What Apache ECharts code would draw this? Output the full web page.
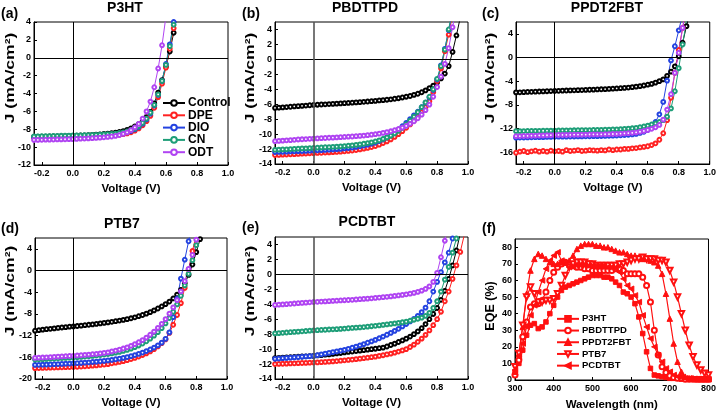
<!DOCTYPE html>
<html><head><meta charset="utf-8">
<script src="https://cdn.jsdelivr.net/npm/echarts@6/dist/echarts.min.js"></script>
<style>html,body{margin:0;padding:0;background:#fff}#c{width:719px;height:412px}</style>
</head><body><div id="c"></div>
<script>
// ---------- data ----------
const V = [-0.25,-0.225,-0.2,-0.175,-0.15,-0.125,-0.1,-0.075,-0.05,-0.025,
  0,0.025,0.05,0.075,0.1,0.125,0.15,0.175,0.2,0.225,
  0.25,0.275,0.3,0.325,0.35,0.375,0.4,0.425,0.45,0.475,
  0.5,0.525,0.55,0.575,0.6,0.625,0.65,0.675,0.7,0.725,
  0.75,0.775,0.8,0.825,0.85,0.875,0.9,0.925,0.95,0.975,1.0];
const xTicks = [-0.2,0,0.2,0.4,0.6,0.8,1.0];
const seriesNames = ['Control','DPE','DIO','CN','ODT'];

// (a) P3HT
const a_control = [-8.85,-8.84,-8.83,-8.82,-8.81,-8.8,-8.79,-8.78,-8.77,-8.75,
  -8.74,-8.72,-8.7,-8.68,-8.66,-8.63,-8.6,-8.57,-8.53,-8.49,
  -8.44,-8.38,-8.3,-8.2,-8.07,-7.9,-7.68,-7.42,-7.1,-6.65,
  -6.05,-5.1,-3.9,-2.5,-1.0,0.7,2.8,5.0];
const a_dpe = [-8.95,-8.94,-8.93,-8.92,-8.91,-8.9,-8.89,-8.88,-8.87,-8.86,
  -8.85,-8.84,-8.83,-8.82,-8.8,-8.79,-8.77,-8.75,-8.73,-8.71,
  -8.68,-8.65,-8.6,-8.54,-8.46,-8.34,-8.15,-7.9,-7.55,-7.1,
  -6.5,-5.6,-4.4,-2.9,-1.1,1.0,3.3,5.8];
const a_dio = [-8.9,-8.89,-8.88,-8.87,-8.86,-8.85,-8.84,-8.83,-8.82,-8.81,
  -8.8,-8.79,-8.78,-8.76,-8.75,-8.73,-8.71,-8.69,-8.67,-8.64,
  -8.61,-8.57,-8.51,-8.44,-8.34,-8.2,-8.0,-7.74,-7.38,-6.9,
  -6.25,-5.35,-4.15,-2.6,-0.7,1.5,4.0,6.5];
const a_cn = [-8.8,-8.79,-8.78,-8.77,-8.76,-8.75,-8.74,-8.73,-8.72,-8.71,
  -8.7,-8.69,-8.68,-8.67,-8.65,-8.64,-8.62,-8.6,-8.58,-8.55,
  -8.52,-8.48,-8.42,-8.35,-8.25,-8.1,-7.9,-7.64,-7.28,-6.8,
  -6.15,-5.28,-4.1,-2.6,-0.8,1.3,3.7,6.2];
const a_odt = [-9.2,-9.19,-9.18,-9.17,-9.16,-9.15,-9.14,-9.13,-9.12,-9.11,
  -9.1,-9.08,-9.06,-9.04,-9.02,-9.0,-8.97,-8.94,-8.9,-8.86,
  -8.81,-8.74,-8.65,-8.52,-8.35,-8.1,-7.8,-7.4,-6.8,-6.0,
  -4.9,-3.3,-1.2,1.4,4.6];
const a_yTicks = [-12,-10,-8,-6,-4,-2,0,2,4];

// (b) PBDTTPD
const b_control = [-6.5,-6.46,-6.42,-6.38,-6.34,-6.3,-6.26,-6.22,-6.18,-6.14,
  -6.1,-6.07,-6.04,-6.01,-5.98,-5.95,-5.92,-5.89,-5.86,-5.83,
  -5.8,-5.76,-5.72,-5.68,-5.64,-5.6,-5.55,-5.5,-5.45,-5.4,
  -5.34,-5.27,-5.2,-5.1,-5.0,-4.9,-4.75,-4.6,-4.4,-4.15,
  -3.85,-3.5,-3.1,-2.55,-1.9,-0.9,1.0,3.2,5.6];
const b_dpe = [-12.8,-12.78,-12.75,-12.73,-12.7,-12.68,-12.65,-12.62,-12.6,-12.57,
  -12.55,-12.52,-12.5,-12.47,-12.44,-12.41,-12.38,-12.35,-12.3,-12.25,
  -12.2,-12.13,-12.05,-11.95,-11.85,-11.73,-11.6,-11.42,-11.2,-10.97,
  -10.7,-10.37,-10.0,-9.6,-9.15,-8.7,-8.2,-7.65,-7.05,-6.4,
  -5.6,-4.4,-2.9,-1.2,1.1,3.3,6.0];
const b_dio = [-12.4,-12.38,-12.36,-12.34,-12.32,-12.3,-12.28,-12.26,-12.24,-12.22,
  -12.2,-12.17,-12.14,-12.11,-12.08,-12.05,-12.01,-11.97,-11.92,-11.86,
  -11.8,-11.72,-11.63,-11.53,-11.42,-11.28,-11.12,-10.93,-10.7,-10.45,
  -10.15,-9.8,-9.4,-8.95,-8.5,-8.0,-7.5,-7.0,-6.4,-5.8,
  -5.1,-4.1,-2.7,-0.8,1.4,3.9,6.5];
const b_cn = [-12.1,-12.08,-12.05,-12.03,-12.0,-11.98,-11.95,-11.92,-11.9,-11.87,
  -11.85,-11.82,-11.79,-11.76,-11.73,-11.7,-11.67,-11.64,-11.6,-11.55,
  -11.5,-11.44,-11.37,-11.29,-11.2,-11.1,-10.98,-10.83,-10.65,-10.44,
  -10.2,-9.9,-9.55,-9.15,-8.7,-8.2,-7.65,-7.05,-6.4,-5.75,
  -5.0,-4.0,-2.6,-0.9,1.3,4.0,6.8];
const b_odt = [-10.95,-10.91,-10.87,-10.83,-10.8,-10.76,-10.72,-10.69,-10.66,-10.63,
  -10.6,-10.57,-10.54,-10.52,-10.49,-10.47,-10.44,-10.41,-10.38,-10.35,
  -10.32,-10.28,-10.24,-10.19,-10.14,-10.08,-10.01,-9.93,-9.84,-9.74,
  -9.62,-9.48,-9.32,-9.13,-8.9,-8.62,-8.28,-7.88,-7.4,-6.8,
  -6.05,-5.0,-3.7,-2.3,-0.6,1.5,4.3,7.0];
const b_yTicks = [-14,-12,-10,-8,-6,-4,-2,0,2,4];

// (c) PPDT2FBT
const c_control = [-5.9,-5.88,-5.85,-5.82,-5.8,-5.78,-5.75,-5.72,-5.7,-5.67,
  -5.65,-5.63,-5.6,-5.58,-5.56,-5.54,-5.52,-5.5,-5.47,-5.45,
  -5.43,-5.4,-5.37,-5.34,-5.31,-5.27,-5.23,-5.19,-5.14,-5.08,
  -5.0,-4.92,-4.83,-4.73,-4.6,-4.45,-4.25,-4.0,-3.7,-3.1,
  -2.4,-1.5,0.2,2.5,5.3,8.0];
const c_dpe = [-16.1,-15.9,-15.8,-16.0,-15.85,-15.75,-15.9,-15.8,-15.9,-15.75,
  -15.85,-15.8,-15.9,-15.65,-15.8,-15.75,-15.65,-15.8,-15.75,-15.65,
  -15.7,-15.75,-15.65,-15.7,-15.55,-15.65,-15.55,-15.55,-15.45,-15.45,
  -15.35,-15.3,-15.2,-15.1,-15.0,-14.8,-14.5,-13.9,-12.8,-10.6,
  -6.8,-2.6,1.3,5.0,8.5];
const c_dio = [-13.55,-13.53,-13.52,-13.5,-13.49,-13.47,-13.46,-13.45,-13.43,-13.42,
  -13.4,-13.39,-13.38,-13.37,-13.36,-13.35,-13.34,-13.33,-13.32,-13.31,
  -13.3,-13.29,-13.27,-13.25,-13.23,-13.21,-13.18,-13.15,-13.11,-13.06,
  -13.0,-12.9,-12.75,-12.55,-12.25,-11.7,-10.9,-9.6,-7.5,-3.9,
  -0.5,1.9,4.6,7.3];
const c_cn = [-12.45,-12.44,-12.43,-12.42,-12.41,-12.4,-12.39,-12.38,-12.37,-12.36,
  -12.35,-12.34,-12.33,-12.32,-12.31,-12.3,-12.29,-12.28,-12.27,-12.26,
  -12.25,-12.24,-12.22,-12.2,-12.18,-12.16,-12.14,-12.11,-12.07,-12.02,
  -11.96,-11.88,-11.78,-11.65,-11.5,-11.32,-11.12,-10.9,-10.6,-10.0,
  -8.6,-5.7,-1.8,2.2,6.2];
const c_odt = [-13.3,-13.28,-13.26,-13.24,-13.22,-13.2,-13.18,-13.16,-13.14,-13.12,
  -13.1,-13.09,-13.08,-13.07,-13.06,-13.05,-13.04,-13.03,-13.02,-13.01,
  -13.0,-12.99,-12.98,-12.97,-12.95,-12.93,-12.91,-12.88,-12.84,-12.79,
  -12.73,-12.65,-12.55,-12.42,-12.25,-12.05,-11.8,-11.4,-10.5,-8.8,
  -6.2,-2.6,0.8,5.0,9.0];
const c_yTicks = [-16,-12,-8,-4,0,4];

// (d) PTB7
const d_control = [-11.1,-11.0,-10.9,-10.82,-10.74,-10.66,-10.58,-10.5,-10.43,-10.36,
  -10.3,-10.23,-10.16,-10.08,-10.0,-9.92,-9.83,-9.74,-9.65,-9.55,
  -9.45,-9.34,-9.22,-9.1,-8.96,-8.8,-8.62,-8.42,-8.2,-7.95,
  -7.67,-7.35,-7.0,-6.62,-6.2,-5.72,-5.15,-4.45,-3.55,-2.35,
  -0.8,1.1,3.4,5.8,8.2];
const d_dpe = [-18.0,-17.98,-17.95,-17.93,-17.9,-17.88,-17.86,-17.84,-17.82,-17.8,
  -17.78,-17.74,-17.7,-17.65,-17.6,-17.54,-17.48,-17.41,-17.33,-17.25,
  -17.1,-16.98,-16.85,-16.7,-16.52,-16.32,-16.1,-15.85,-15.58,-15.27,
  -14.92,-14.5,-14.0,-13.4,-12.7,-11.5,-10.0,-8.2,-6.0,-3.2,
  0.2,3.6,6.6];
const d_dio = [-17.4,-17.38,-17.35,-17.33,-17.3,-17.27,-17.24,-17.21,-17.18,-17.15,
  -17.1,-17.06,-17.02,-16.97,-16.92,-16.86,-16.8,-16.73,-16.65,-16.56,
  -16.47,-16.36,-16.24,-16.1,-15.95,-15.78,-15.58,-15.36,-15.12,-14.85,
  -14.55,-14.2,-13.8,-13.3,-12.6,-11.4,-8.6,-5.2,-1.5,2.0,
  5.4,8.5];
const d_cn = [-16.4,-16.37,-16.34,-16.3,-16.26,-16.22,-16.18,-16.14,-16.1,-16.06,
  -16.02,-15.97,-15.92,-15.86,-15.8,-15.73,-15.66,-15.58,-15.49,-15.39,
  -15.28,-15.15,-15.0,-14.83,-14.63,-14.4,-14.13,-13.82,-13.46,-13.04,
  -12.56,-12.0,-11.36,-10.62,-9.76,-8.76,-7.6,-6.25,-4.65,-2.75,
  -0.6,1.9,4.7,7.6];
const d_odt = [-16.1,-16.07,-16.04,-16.0,-15.96,-15.92,-15.88,-15.84,-15.8,-15.76,
  -15.72,-15.67,-15.62,-15.56,-15.5,-15.43,-15.36,-15.28,-15.19,-15.09,
  -14.9,-14.75,-14.58,-14.38,-14.15,-13.88,-13.57,-13.22,-12.82,-12.36,
  -11.84,-11.25,-10.58,-9.82,-8.95,-7.95,-6.8,-5.45,-3.85,-1.95,
  0.3,2.9,5.7,8.6];
const d_yTicks = [-20,-16,-12,-8,-4,0,4];

// (e) PCDTBT
const e_control = [-11.2,-11.17,-11.14,-11.11,-11.08,-11.05,-11.02,-10.99,-10.96,-10.93,
  -10.9,-10.85,-10.8,-10.75,-10.7,-10.64,-10.58,-10.52,-10.45,-10.38,
  -10.32,-10.26,-10.2,-10.14,-10.08,-10.01,-9.95,-9.88,-9.8,-9.65,
  -9.45,-9.27,-9.05,-8.84,-8.6,-8.32,-8.0,-7.63,-7.2,-6.65,
  -6.0,-5.3,-4.5,-3.4,-2.2,-0.6,1.2,3.2,5.5,8.0];
const e_dpe = [-12.0,-11.98,-11.96,-11.94,-11.92,-11.9,-11.88,-11.86,-11.84,-11.82,
  -11.8,-11.77,-11.74,-11.71,-11.68,-11.64,-11.6,-11.55,-11.5,-11.45,
  -11.4,-11.34,-11.28,-11.22,-11.15,-11.08,-11.0,-10.91,-10.82,-10.71,
  -10.6,-10.47,-10.33,-10.17,-10.0,-9.72,-9.4,-9.02,-8.6,-8.1,
  -7.5,-6.8,-6.0,-5.0,-3.6,-2.3,-0.6,1.2,3.0,5.2,7.5];
const e_dio = [-11.3,-11.26,-11.22,-11.18,-11.14,-11.1,-11.06,-11.02,-10.98,-10.94,
  -10.9,-10.8,-10.7,-10.6,-10.5,-10.4,-10.3,-10.2,-10.1,-9.96,
  -9.82,-9.67,-9.5,-9.33,-9.15,-8.96,-8.76,-8.55,-8.32,-8.08,
  -7.83,-7.56,-7.28,-6.97,-6.64,-6.3,-5.95,-5.55,-5.05,-4.45,
  -3.6,-2.3,-1.0,0.3,1.6,2.9,4.8,6.8];
const e_cn = [-7.9,-7.86,-7.82,-7.78,-7.74,-7.7,-7.66,-7.62,-7.58,-7.54,
  -7.5,-7.47,-7.44,-7.41,-7.38,-7.35,-7.32,-7.29,-7.25,-7.21,
  -7.17,-7.13,-7.09,-7.05,-6.99,-6.94,-6.88,-6.82,-6.76,-6.7,
  -6.63,-6.56,-6.49,-6.41,-6.32,-6.2,-6.07,-5.94,-5.8,-5.55,
  -5.15,-4.5,-3.6,-2.3,-0.7,1.0,2.9,4.8,6.8];
const e_odt = [-4.1,-4.06,-4.02,-3.98,-3.94,-3.9,-3.86,-3.82,-3.78,-3.74,
  -3.7,-3.67,-3.64,-3.61,-3.58,-3.55,-3.52,-3.49,-3.46,-3.43,
  -3.4,-3.36,-3.32,-3.28,-3.24,-3.2,-3.15,-3.1,-3.05,-3.0,
  -2.94,-2.88,-2.82,-2.75,-2.67,-2.58,-2.47,-2.34,-2.18,-1.95,
  -1.6,-1.0,0.2,2.3,4.5,7.0];
const e_yTicks = [-14,-12,-10,-8,-6,-4,-2,0,2,4];

// (f) EQE
const W = [300,310,320,330,340,350,360,370,380,390,
  400,410,420,430,440,450,460,470,480,490,
  500,510,520,530,540,550,560,570,580,590,
  600,610,620,630,640,650,660,670,680,690,
  700,710,720,730,740,750,760,770,780,790,800];
const eqeNames = ['P3HT','PBDTTPD','PPDT2FBT','PTB7','PCDTBT'];
const eqe_p3ht = [5,10,18,27,33,34,31,32,35,40,
  45,50,54,56,57,58,59,60,61,62,
  63,63,63,62,62,61,59,57,53,52,
  50,46,38,28,17,7,3,2.5,2,1.5,
  1,1,1,0.5,0.5,0.5,0.5,0.5,0.5,0.5,0.5];
const eqe_pbdttpd = [3,12,26,35,44,46,46,48,53,60,
  65,68,70,71,70,69,68,68,67,67,
  66,66,66,66,66,66,67,67,66,64,
  64,64,64,62,57,47,30,15,8,4.5,
  2.5,1.5,1,1,0.5,0.5,0.5,0.5,0.5,0.5,0.5];
const eqe_ppdt2fbt = [5,16,32,52,66,73,76,75,73,71,
  70,70,71,71,72,75,79,81,82,82,
  82,81,81,80,80,79,78,77,77,76,
  75,75,74,73,73,72,71,69,64,52,
  37,22,11,5,2,1,1,0.5,0.5,0.5,0.5];
const eqe_ptb7 = [8,16,33,50,56,52,47,47,48,48,
  49,52,57,63,68,70,71,71,71,70,
  70,69,69,69,69,69,69,70,70,71,
  72,73,73,74,73,73,73,72,72,71,
  66,59,50,40,30,21,14,9,6,4,3];
const eqe_pcdtbt = [6,14,22,32,39,45,53,60,67,72,
  75,77,72,70,68,68,69,69,69,69,
  69,69,69,69,68,68,67,65,61,57,
  55,51,47,39,32,25,20,15,11,7,
  5,3,2,1.5,1,1,0.5,0.5,0.5,0.5,0.5];
const eqeXTicks = [300,400,500,600,700,800];
const eqeYTicks = [0,10,20,30,40,50,60,70,80];

// ---------- chart ----------
const FONT = '"Liberation Sans", Arial, sans-serif';
const jvColors = ['#000000','#ff2222','#2443e0','#1e9e78','#b044f2'];
const eqeColor = '#ff1010';

const panels = [
  {d:[a_control,a_dpe,a_dio,a_cn,a_odt], yMin:-12, yMax:4, yt:a_yTicks, g:{left:34,top:22,width:194,height:143}, vz:'#000', vzw:1},
  {d:[b_control,b_dpe,b_dio,b_cn,b_odt], yMin:-14, yMax:5, yt:b_yTicks, g:{left:275,top:22,width:193,height:142}, vz:'#555', vzw:1.6},
  {d:[c_control,c_dpe,c_dio,c_cn,c_odt], yMin:-18, yMax:6, yt:c_yTicks, g:{left:516,top:22,width:194,height:142}, vz:'#000', vzw:1},
  {d:[d_control,d_dpe,d_dio,d_cn,d_odt], yMin:-20, yMax:6, yt:d_yTicks, g:{left:35,top:238,width:192,height:141}, vz:'#000', vzw:1},
  {d:[e_control,e_dpe,e_dio,e_cn,e_odt], yMin:-14, yMax:5, yt:e_yTicks, g:{left:275,top:237,width:193,height:142}, vz:'#555', vzw:1.6}
];
const eqeGrid = {left:515,top:239,width:195,height:141};

const tickLabel = {fontSize:9, fontWeight:'bold', fontFamily:FONT, color:'#000'};
const nameStyle = {fontSize:11.5, fontWeight:'bold', fontFamily:FONT, color:'#000'};

const grids = [], xAxes = [], yAxes = [], series = [];

function mkX(gi, min, max, ticks, fmt, name, gap){
  return {gridIndex:gi, type:'value', min:min, max:max,
    axisLine:{show:true, onZero:false, lineStyle:{color:'#000', width:1}},
    axisTick:{show:true, inside:true, length:3, customValues:ticks, lineStyle:{color:'#000'}},
    axisLabel:Object.assign({customValues:ticks, margin:4, formatter:fmt, showMinLabel:true, showMaxLabel:true}, tickLabel),
    splitLine:{show:false},
    name:name, nameLocation:'middle', nameGap:gap, nameTextStyle:nameStyle};
}
function mkY(gi, min, max, ticks){
  return {gridIndex:gi, type:'value', min:min, max:max,
    axisLine:{show:true, onZero:false, lineStyle:{color:'#000', width:1}},
    axisTick:{show:true, inside:true, length:3, customValues:ticks, lineStyle:{color:'#000'}},
    axisLabel:Object.assign({customValues:ticks, margin:3}, tickLabel),
    splitLine:{show:false}};
}

panels.forEach((p, pi) => {
  grids.push(Object.assign({show:true, borderColor:'#000', borderWidth:1, backgroundColor:'transparent', containLabel:false}, p.g));
  xAxes.push(mkX(pi, -0.25, 1.0, xTicks, v => v.toFixed(1), 'Voltage (V)', 18));
  yAxes.push(mkY(pi, p.yMin, p.yMax, p.yt));
  p.d.forEach((arr, si) => {
    const s = {
      type:'line', name:seriesNames[si], xAxisIndex:pi, yAxisIndex:pi,
      data: arr.map((j, k) => [V[k], j]),
      symbol:'emptyCircle', symbolSize:3.8, showAllSymbol:true, clip:true,
      lineStyle:{color:jvColors[si], width:1},
      itemStyle:{color:jvColors[si], borderColor:jvColors[si], borderWidth:1},
      emphasis:{disabled:true}, animation:false
    };
    if (si === 0) {
      s.markLine = {silent:true, symbol:['none','none'], label:{show:false}, animation:false,
        data:[{yAxis:0, lineStyle:{color:'#000', width:1, type:'solid'}},
              {xAxis:0, lineStyle:{color:p.vz, width:p.vzw, type:'solid'}}]};
    }
    series.push(s);
  });
});

// EQE panel
grids.push(Object.assign({show:true, borderColor:'#000', borderWidth:1, backgroundColor:'transparent', containLabel:false}, eqeGrid));
xAxes.push(mkX(5, 300, 800, eqeXTicks, v => String(v), 'Wavelength (nm)', 19));
yAxes.push(mkY(5, 0, 85, eqeYTicks));
const eqeData = [eqe_p3ht, eqe_pbdttpd, eqe_ppdt2fbt, eqe_ptb7, eqe_pcdtbt];
const eqeSym = ['rect','emptyCircle','triangle','emptyTriangle','triangle'];
const eqeRot = [0,0,0,180,90];
const eqeSize = [4.5,5,5.5,5.5,5.5];
eqeData.forEach((arr, si) => {
  series.push({
    type:'line', name:eqeNames[si], xAxisIndex:5, yAxisIndex:5,
    data: arr.map((v, k) => [W[k], v]),
    symbol:eqeSym[si], symbolRotate:eqeRot[si], symbolSize:eqeSize[si], showAllSymbol:true,
    lineStyle:{color:eqeColor, width:1.2},
    itemStyle:{color:eqeColor, borderColor:eqeColor, borderWidth:1},
    emphasis:{disabled:true}, animation:false
  });
});

function txt(x, y, t, size, align){
  return {type:'text', x:x, y:y, silent:true,
    style:{text:t, fill:'#000', font:'bold ' + size + 'px ' + FONT,
      align:align, textAlign:align, verticalAlign:'middle', textVerticalAlign:'middle'}};
}
function vtxt(x, y, t, size, sx){
  return {type:'text', x:x, y:y, rotation:Math.PI/2, scaleX:sx, scaleY:1, silent:true,
    style:{text:t, fill:'#000', font:'bold ' + size + 'px ' + FONT,
      align:'center', textAlign:'center', verticalAlign:'middle', textVerticalAlign:'middle'}};
}
const yName = 'J (mA/cm\u00B2)';
const graphics = [
  txt(125, 8, 'P3HT', 14, 'center'), txt(1, 14, '(a)', 14, 'left'),
  txt(365, 8, 'PBDTTPD', 14, 'center'), txt(242, 14, '(b)', 14, 'left'),
  txt(607, 8, 'PPDT2FBT', 14, 'center'), txt(482, 14, '(c)', 14, 'left'),
  txt(122, 224, 'PTB7', 14, 'center'), txt(1, 229, '(d)', 14, 'left'),
  txt(367, 222, 'PCDTBT', 14, 'center'), txt(242, 228, '(e)', 14, 'left'),
  txt(482, 229, '(f)', 14, 'left'),
  vtxt(10.5, 78, yName, 13, 1.35), vtxt(250.5, 78, yName, 13, 1.35), vtxt(490.5, 78, yName, 13, 1.35),
  vtxt(10.5, 291, yName, 13, 1.35), vtxt(250.5, 291, yName, 13, 1.35),
  vtxt(490.5, 306, 'EQE (%)', 12.5, 1)
];

const chart = echarts.init(document.getElementById('c'), null, {renderer:'canvas'});
chart.setOption({
  backgroundColor:'#ffffff',
  animation:false,
  grid:grids, xAxis:xAxes, yAxis:yAxes, series:series,
  graphic:graphics,
  legend:[
    {data:seriesNames, left:162, top:97, orient:'vertical', padding:0, itemGap:0.3,
     itemWidth:22, itemHeight:7, selectedMode:false,
     textStyle:{fontSize:12, lineHeight:12, fontWeight:'bold', fontFamily:FONT, color:'#000', padding:[0,0,0,-2]}},
    {data:eqeNames, left:556, top:313, orient:'vertical', padding:0, itemGap:0,
     itemWidth:22, itemHeight:7, selectedMode:false,
     textStyle:{fontSize:9.5, lineHeight:11.7, fontWeight:'bold', fontFamily:FONT, color:'#000', padding:[0,0,0,-2]}}
  ]
});
</script></body></html>
